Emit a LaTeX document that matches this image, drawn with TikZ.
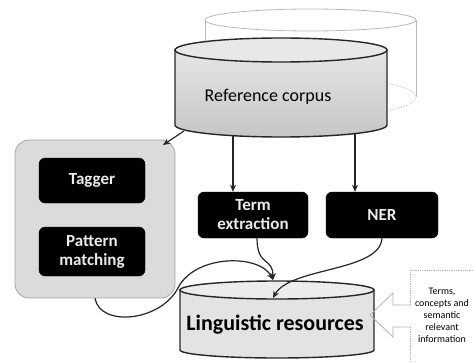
\documentclass[tikz,border=0pt]{standalone}
\usepackage{fontspec}
\setmainfont{Carlito}
\usetikzlibrary{arrows.meta}
\begin{document}
\begin{tikzpicture}[x=1pt,y=1pt,
  blk/.style={draw=black,fill=black,rounded corners=6pt,text=white!92!black,font=\bfseries\fontsize{17}{19}\selectfont,align=center,inner sep=0pt},
  arr/.style={-{Stealth[length=7pt,width=6pt]},line width=1.2pt,draw=black!85},
  cyl/.style={line width=1.4pt,draw=black!85},
  ghost/.style={gray!55,line width=0.8pt}]
\useasboundingbox (0,0) rectangle (473,362);

% back cylinder (ghost)
\draw[ghost] (205,342) -- (205,265);
\draw[ghost] (416,342) -- (416,265);
\draw[ghost] (310.5,342) ellipse (105.5 and 11);
\draw[ghost,dotted,line width=1pt] (205,265) arc[start angle=180,end angle=360,x radius=105.5,y radius=20];
\draw[gray!30,line width=0.6pt] (416,265) arc[start angle=0,end angle=180,x radius=105.5,y radius=20];

% front cylinder: reference corpus
\draw[cyl,top color=gray!20,bottom color=gray!45] (175,312) -- (175,237) arc[start angle=180,end angle=360,x radius=106,y radius=12] -- (387,312) -- cycle;
\draw[cyl,fill=gray!18] (281,312) ellipse (106 and 12);
\node[font=\fontsize{18}{20}\selectfont] (rc) at (268,265) {Reference corpus};
\coordinate (rcL) at (184,231);
\coordinate (rcA) at (233,226);
\coordinate (rcB) at (355,228);

% left group box
\node[draw=gray!70,fill=gray!28,rounded corners=14pt,minimum width=160,minimum height=158,line width=0.8pt,inner sep=0pt] (lbox) at (95,143) {};
\coordinate (lbTR) at (163,217);
\node[blk,minimum width=106,minimum height=45] (tag) at (92,181.5) {Tagger};
\node[blk,minimum width=106,minimum height=49] (pm) at (92,110.5) {Pattern\\matching};

% processing boxes
\node[blk,minimum width=110,minimum height=46] (te) at (253,147) {Term\\extraction};
\node[blk,minimum width=112,minimum height=46] (ner) at (382,147) {NER};

% linguistic resources cylinder
\draw[cyl,fill=gray!22] (180,72) -- (180,12) arc[start angle=180,end angle=360,x radius=97,y radius=8] -- (374,72) -- cycle;
\draw[cyl,fill=gray!15] (277,72) ellipse (97 and 9);
\node[font=\bfseries\fontsize{22}{24}\selectfont] (lr) at (275,37) {Linguistic resources};
\coordinate (lrT1) at (273,82);
\coordinate (lrT2) at (273,64);

% arrows
\draw[arr] (rcL) -- (lbTR);
\draw[arr] (rcA) -- (rcA |- te.north);
\draw[arr] (rcB) -- (rcB |- ner.north);
\draw[arr] ([xshift=4pt]te.south) .. controls (257,95) and (273,105) .. (lrT1);
\draw[arr] (lbox.south) .. controls (100,35) and (160,40) .. (178,74) .. controls (195,108) and (260,108) .. (lrT1);
\draw[arr] (ner.south) .. controls (380,90) and (290,95) .. (lrT2);

% callout
\draw[gray!60,line width=0.8pt,densely dotted] (473,92) -- (410,92) -- (410,57);
\draw[gray!60,line width=0.8pt] (410,57) -- (393,57) -- (393,69) -- (370,47) -- (393,25) -- (393,35) -- (410,35);
\draw[gray!60,line width=0.8pt,densely dotted] (410,35) -- (410,0);
\node[font=\fontsize{10}{12}\selectfont,align=center] (info) at (442,47) {Terms,\\concepts and\\semantic\\relevant\\information};
\end{tikzpicture}
\end{document}
